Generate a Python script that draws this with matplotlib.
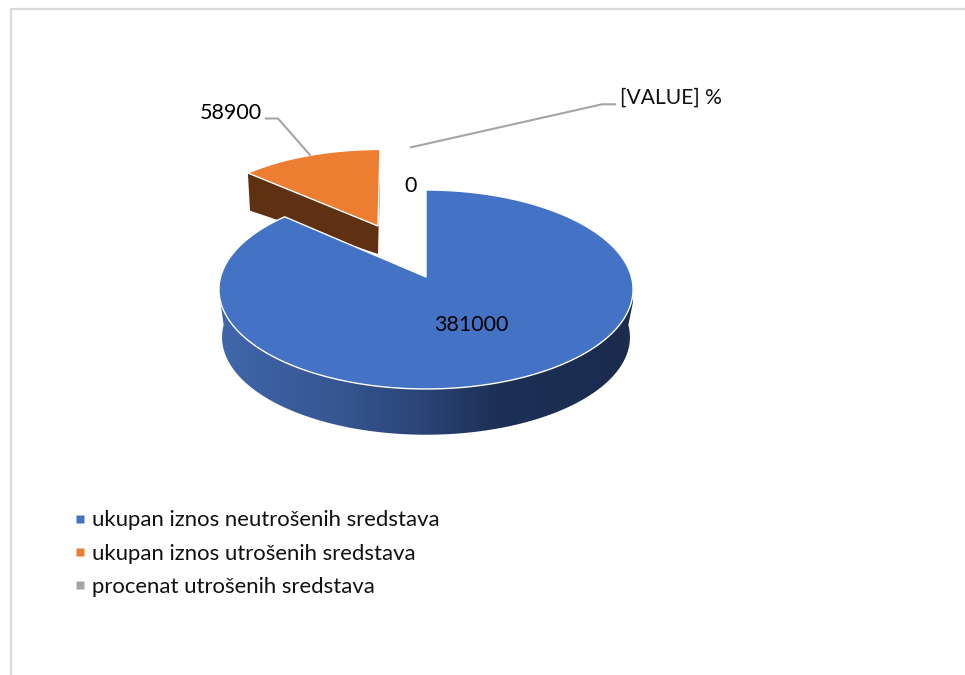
import numpy as np
import matplotlib
matplotlib.use("Agg")
import matplotlib.pyplot as plt
from matplotlib.patches import Polygon
from matplotlib.lines import Line2D
from matplotlib.colors import LinearSegmentedColormap

categories = ["ukupan iznos neutrošenih sredstava", "ukupan iznos utrošenih sredstava", "procenat utrošenih sredstava"]
values = [381000, 58900, 0]
value_labels = ["381000", "58900", "0"]
extra_label = "[VALUE] %"
colors = ["#4472C4", "#ED7D31", "#A5A5A5"]

plt.rcParams["font.family"] = ["Lato", "DejaVu Sans"]
fig = plt.figure(figsize=(9.65, 6.75), dpi=100, facecolor="white")
ax = fig.add_axes([0, 0, 1, 1])
ax.set_xlim(0, 965)
ax.set_ylim(675, 0)
ax.axis("off")

K, R, S = 0.1256, 205.4, 97.9


def proj(theta, cx, cy, sx=1.0, sy=1.0):
    X, Y = np.sin(theta), np.cos(theta)
    w = 1 + K * Y
    return np.column_stack([cx + sx * R * X / w, cy - sy * S * Y / w])


fractions = np.array(values, dtype=float) / sum(values)
edges = np.concatenate([[0], np.cumsum(fractions)]) * 2 * np.pi
CX, CY = 426, 277

# border of the chart area
ax.plot([11, 11, 965], [675, 9, 9], color="#D9D9D9", lw=1.6, solid_capstyle="butt", zorder=1)

# orange slice (pulled out, further back)
th = np.linspace(edges[1], edges[2], 80)
o_top = proj(th, 380, 226, 0.935, 0.88)
o_bot = proj(th, 380, 254, 0.92, 0.72)
ax.add_patch(Polygon(np.vstack([[378, 226], o_top[0], o_bot[0], [378, 254]]), fc="#5F3012", ec="none", zorder=2))
ax.add_patch(Polygon(np.vstack([[378, 226], o_top[-1], o_bot[-1], [378, 254]]), fc="#A8683F", ec="none", zorder=2))
ax.add_patch(Polygon(np.vstack([[378, 226], o_top]), fc=colors[1], ec="white", lw=1.0, joinstyle="miter", zorder=3))

# blue slice side wall with gradient
tb = np.linspace(np.pi / 2, 3 * np.pi / 2, 200)
b_top = proj(tb, CX, CY)
b_bot = proj(tb, CX, CY + 48, 0.985, 0.98)
side = Polygon(np.vstack([[[633, 290], [632.8, 303]], b_bot, [[220.5, 303], [219, 290]], b_top[::-1]]),
               fc="none", ec="none", zorder=4)
ax.add_patch(side)
cmap = LinearSegmentedColormap.from_list(
    "side", [(0, "#4067AC"), (0.3, "#34558F"), (0.5, "#2A4374"), (0.68, "#1C2F55"), (1, "#1A2B4E")])
img = ax.imshow(np.linspace(0, 1, 400)[None, :], extent=(219, 634, 440, 280), cmap=cmap,
                aspect="auto", zorder=4)
img.set_clip_path(side)
ax.set_xlim(0, 965)
ax.set_ylim(675, 0)

# blue slice top face
th = np.linspace(edges[0], edges[1], 400)
ax.add_patch(Polygon(np.vstack([[CX, CY], proj(th, CX, CY)]), fc=colors[0], ec="white", lw=1.0,
                     joinstyle="miter", zorder=5))

# leader lines
ax.plot([266, 278, 310], [118.5, 118.5, 155], color="#A5A5A5", lw=1.5, zorder=6)
ax.plot([411, 602, 615], [147.3, 104.3, 104.3], color="#A5A5A5", lw=1.5, zorder=6)

# labels
fs = 15.5
ax.text(471, 325, value_labels[0], ha="center", va="center", fontsize=fs, color="black", zorder=7)
ax.text(231, 113, value_labels[1], ha="center", va="center", fontsize=fs, color="black", zorder=7)
ax.text(411, 186, value_labels[2], ha="center", va="center", fontsize=fs, color="black", zorder=7)
ax.text(620, 98, extra_label, ha="left", va="center", fontsize=15.1, color="#111111", zorder=7)

# legend
handles = [Line2D([], [], ls="none", marker="s", ms=6.0, mfc=c, mec="none") for c in colors]
ax.legend(handles, categories, loc="upper left", bbox_to_anchor=(67, 510.5), bbox_transform=ax.transData,
          frameon=False, fontsize=15.9, labelspacing=0.6, handletextpad=0.0, handlelength=1.15, borderpad=0,
          borderaxespad=0, labelcolor="#111111")

fig.savefig("out.png", dpi=100, facecolor="white")
